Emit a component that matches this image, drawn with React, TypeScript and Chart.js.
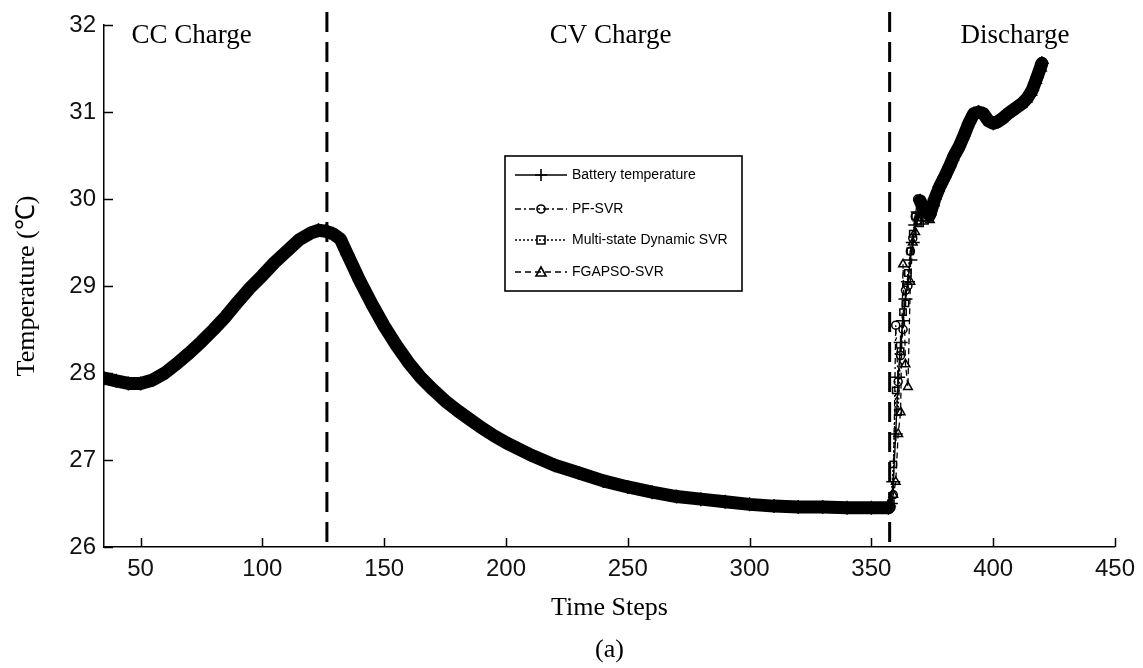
import React, { useEffect, useRef } from "react";
import { Chart, registerables } from "chart.js";

Chart.register(...registerables);

// ---------- data ----------
const chargeSteps = [
  35, 40, 45, 50, 55, 60, 65, 70, 75, 80, 85, 90, 95, 100, 105, 110, 115, 120,
  123, 126, 129, 132, 135,
  140, 145, 150, 155, 160, 165, 170, 175, 180, 185, 190, 195, 200,
  210, 220, 230, 240, 250, 260, 270, 280, 290, 300, 310, 320, 330, 340, 350,
  357,
];
const chargeBattery = [
  27.94, 27.91, 27.88, 27.88, 27.92, 28.0, 28.11, 28.23, 28.36, 28.5, 28.65, 28.82, 28.98, 29.12, 29.27, 29.4, 29.53, 29.61,
  29.64, 29.63, 29.6, 29.54, 29.36,
  29.06, 28.79, 28.54, 28.32, 28.12, 27.95, 27.81, 27.68, 27.57, 27.47, 27.37, 27.28, 27.2,
  27.06, 26.94, 26.85, 26.76, 26.69, 26.63, 26.58, 26.55, 26.52, 26.49, 26.47, 26.46, 26.46, 26.45, 26.45,
  26.45,
];

const dischargeSteps = [
  358, 359, 360, 361, 362, 363, 364, 365, 366, 367, 368, 369, 370,
  372, 374, 376, 378, 380, 382, 384, 386, 388, 390, 392, 394, 396, 398, 400,
  402, 404, 406, 408, 410, 412, 414, 416, 418, 420,
];
const dischargeBattery = [
  26.5, 26.75, 27.3, 27.95, 28.35, 28.6, 28.85, 29.05, 29.3, 29.5, 29.7, 29.85, 29.98,
  29.85, 29.82, 30.0, 30.14, 30.25, 30.37, 30.5, 30.6, 30.73, 30.87, 30.98, 31.0, 30.98, 30.9, 30.87,
  30.89, 30.93, 30.98, 31.02, 31.06, 31.1, 31.16, 31.25, 31.4, 31.56,
];
const dischargePF = [
  26.45, 26.6, 28.55, 27.9, 28.2, 28.5, 28.95, 29.0, 29.4, 29.55, 29.8, 30.0, 29.95,
  29.8, 29.78, 29.95, 30.12, 30.24, 30.36, 30.5, 30.61, 30.73, 30.88, 30.97, 31.0, 30.97, 30.9, 30.88,
  30.9, 30.93, 30.97, 31.02, 31.06, 31.1, 31.16, 31.26, 31.42, 31.58,
];
const dischargeMulti = [
  26.5, 26.95, 27.8, 27.55, 28.25, 28.7, 28.8, 29.15, 29.4, 29.6, 29.8, 29.75, 29.72,
  29.75, 29.9, 30.02, 30.15, 30.26, 30.38, 30.5, 30.6, 30.74, 30.87, 30.98, 31.0, 30.98, 30.9, 30.87,
  30.89, 30.93, 30.98, 31.02, 31.06, 31.1, 31.16, 31.25, 31.4, 31.55,
];
const dischargeFG = [
  26.5, 26.6, 26.75, 27.3, 27.55, 29.25, 28.1, 27.84, 29.05, 29.5, 29.62, 29.78, 29.85,
  29.78, 29.76, 29.95, 30.12, 30.25, 30.36, 30.48, 30.6, 30.72, 30.86, 30.97, 31.0, 30.98, 30.91, 30.87,
  30.89, 30.92, 30.97, 31.01, 31.05, 31.09, 31.14, 31.22, 31.36, 31.5,
];

const steps = [...chargeSteps, ...dischargeSteps];
const battery = [...chargeBattery, ...dischargeBattery];
const pfSvr = [...chargeBattery, ...dischargePF];
const multiSvr = [...chargeBattery, ...dischargeMulti];
const fgapsoSvr = [...chargeBattery, ...dischargeFG];

const xTicks = [50, 100, 150, 200, 250, 300, 350, 400, 450];
const yTicks = [26, 27, 28, 29, 30, 31, 32];
const phaseBounds = [126.5, 357.5];
const phaseNames = ["CC Charge", "CV Charge", "Discharge"];
const phaseCenters = [71, 243, 409];
const seriesNames = ["Battery temperature", "PF-SVR", "Multi-state Dynamic SVR", "FGAPSO-SVR"];

const SANS = "'Liberation Sans', Arial, sans-serif";
const SERIF = "'Liberation Serif', 'Times New Roman', serif";

const toXY = (ys: number[]) => steps.map((x, i) => ({ x, y: ys[i] }));

const dashes: number[][] = [[], [6, 3, 2, 3], [2, 2], [6, 4]];
const markers = ["cross", "circle", "rect", "triangle"];

function drawMarker(ctx: CanvasRenderingContext2D, kind: string, x: number, y: number) {
  ctx.setLineDash([]);
  ctx.lineWidth = 1.6;
  ctx.beginPath();
  if (kind === "cross") {
    ctx.moveTo(x - 6, y); ctx.lineTo(x + 6, y);
    ctx.moveTo(x, y - 6); ctx.lineTo(x, y + 6);
  } else if (kind === "circle") {
    ctx.arc(x, y, 4, 0, Math.PI * 2);
  } else if (kind === "rect") {
    ctx.rect(x - 4, y - 4, 8, 8);
  } else {
    ctx.moveTo(x, y - 5); ctx.lineTo(x + 5, y + 4); ctx.lineTo(x - 5, y + 4); ctx.closePath();
  }
  ctx.stroke();
}

const decorPlugin = {
  id: "decor",
  afterDatasetsDraw(chart: any) {
    const { ctx, chartArea, scales } = chart;
    const xs = scales.x, ys = scales.y;
    ctx.save();
    ctx.strokeStyle = "#000";
    ctx.fillStyle = "#000";
    // phase boundaries
    ctx.lineWidth = 3;
    ctx.setLineDash([20, 10]);
    phaseBounds.forEach((b) => {
      const px = xs.getPixelForValue(b);
      ctx.beginPath();
      ctx.moveTo(px, 12);
      ctx.lineTo(px, chartArea.bottom);
      ctx.stroke();
    });
    ctx.setLineDash([]);
    // inward ticks
    ctx.lineWidth = 1.5;
    xTicks.forEach((v) => {
      const px = Math.round(xs.getPixelForValue(v)) + 0.5;
      ctx.beginPath();
      ctx.moveTo(px, chartArea.bottom);
      ctx.lineTo(px, chartArea.bottom - 9);
      ctx.stroke();
    });
    yTicks.forEach((v) => {
      const py = Math.round(ys.getPixelForValue(v)) + 0.5;
      ctx.beginPath();
      ctx.moveTo(chartArea.left, py);
      ctx.lineTo(chartArea.left + 9, py);
      ctx.stroke();
    });
    // phase labels
    ctx.font = `27px ${SERIF}`;
    ctx.textAlign = "center";
    ctx.textBaseline = "alphabetic";
    phaseNames.forEach((n, i) => {
      ctx.fillText(n, xs.getPixelForValue(phaseCenters[i]), 43);
    });
    // axis titles
    ctx.font = `26px ${SERIF}`;
    ctx.textBaseline = "middle";
    const cx = (chartArea.left + chartArea.right) / 2;
    ctx.fillText("Time Steps", cx, 608);
    ctx.fillText("(a)", cx, 650);
    ctx.save();
    ctx.translate(27, (chartArea.top + chartArea.bottom) / 2);
    ctx.rotate(-Math.PI / 2);
    ctx.fillText("Temperature (\u2103)", 0, 0);
    ctx.restore();
    // legend
    const bx = 505, by = 156, bw = 237, bh = 135;
    ctx.fillStyle = "#fff";
    ctx.fillRect(bx, by, bw, bh);
    ctx.lineWidth = 1.6;
    ctx.strokeStyle = "#000";
    ctx.strokeRect(bx, by, bw, bh);
    ctx.fillStyle = "#000";
    ctx.font = `14px ${SANS}`;
    ctx.textAlign = "left";
    ctx.textBaseline = "middle";
    const rowsY = [175, 209, 240, 272];
    seriesNames.forEach((n, i) => {
      const ry = rowsY[i];
      ctx.lineWidth = 1.5;
      ctx.setLineDash(dashes[i]);
      ctx.beginPath();
      ctx.moveTo(515, ry);
      ctx.lineTo(567, ry);
      ctx.stroke();
      drawMarker(ctx, markers[i], 541, ry);
      ctx.fillText(n, 572, ry);
    });
    ctx.restore();
  },
};

export default function App() {
  const ref = useRef<HTMLCanvasElement | null>(null);
  useEffect(() => {
    if (!ref.current) return;
    const thinRise = (c: any) =>
      c.p0.parsed.x >= 357 && c.p1.parsed.x <= 371 ? 1.4 : undefined;
    const common = {
      borderColor: "#000",
      pointBorderColor: "#000",
      pointBackgroundColor: "rgba(0,0,0,0)",
      pointBorderWidth: 1.5,
      tension: 0,
    };
    const chart = new Chart(ref.current, {
      type: "line",
      data: {
        datasets: [
          {
            ...common,
            label: seriesNames[0],
            data: toXY(battery),
            borderWidth: 13,
            borderJoinStyle: "round",
            borderCapStyle: "round",
            segment: { borderWidth: thinRise },
            pointStyle: "cross",
            pointRadius: 7,
          },
          {
            ...common,
            label: seriesNames[1],
            data: toXY(pfSvr),
            borderWidth: 1.3,
            borderDash: dashes[1],
            pointStyle: "circle",
            pointRadius: 4,
          },
          {
            ...common,
            label: seriesNames[2],
            data: toXY(multiSvr),
            borderWidth: 1.3,
            borderDash: dashes[2],
            pointStyle: "rect",
            pointRadius: 4.5,
          },
          {
            ...common,
            label: seriesNames[3],
            data: toXY(fgapsoSvr),
            borderWidth: 1.3,
            borderDash: dashes[3],
            pointStyle: "triangle",
            pointRadius: 5,
          },
        ],
      },
      options: {
        animation: false,
        responsive: false,
        maintainAspectRatio: false,
        events: [],
        layout: { padding: { left: 8, right: 26, top: 25, bottom: 0 } },
        plugins: { legend: { display: false }, tooltip: { enabled: false } },
        scales: {
          x: {
            type: "linear",
            min: 35,
            max: 450,
            afterFit: (s: any) => { s.height = 121; },
            afterBuildTicks: (s: any) => { s.ticks = xTicks.map((v) => ({ value: v })); },
            grid: { display: false, drawTicks: false },
            border: { display: true, color: "#000", width: 1.5 },
            ticks: { color: "#111", padding: 8, font: { family: SANS, size: 24 }, maxRotation: 0, autoSkip: false },
          },
          y: {
            type: "linear",
            min: 26,
            max: 32,
            afterFit: (s: any) => { s.width = 96; },
            afterBuildTicks: (s: any) => { s.ticks = yTicks.map((v) => ({ value: v })); },
            grid: { display: false, drawTicks: false },
            border: { display: true, color: "#000", width: 1.5 },
            ticks: { color: "#111", padding: 8, font: { family: SANS, size: 24 }, autoSkip: false },
          },
        },
      },
      plugins: [decorPlugin],
    });
    return () => chart.destroy();
  }, []);
  return (
    <div style={{ position: "fixed", left: 0, top: 0, width: 1143, height: 668, background: "#fff" }}>
      <canvas ref={ref} width={1143} height={668} style={{ display: "block" }} />
    </div>
  );
}
